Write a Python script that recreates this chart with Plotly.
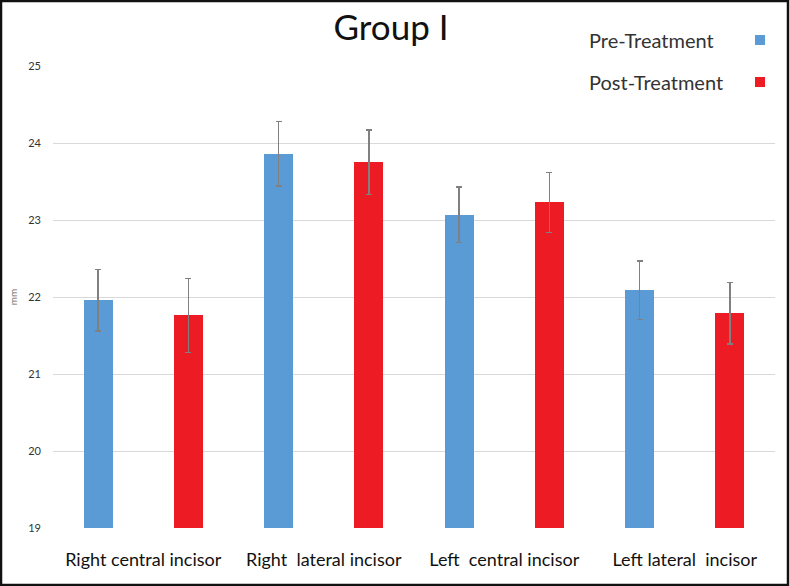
import plotly.graph_objects as go
import numpy as np

categories = ["Right central incisor", "Right  lateral incisor", "Left  central incisor", "Left lateral  incisor"]
series_names = ["Pre-Treatment", "Post-Treatment"]
pre_values = [21.96, 23.86, 23.07, 22.09]
pre_errors = [0.40, 0.42, 0.36, 0.38]
post_values = [21.76, 23.75, 23.23, 21.79]
post_errors = [0.48, 0.42, 0.39, 0.40]
y_ticks = [19, 20, 21, 22, 23, 24, 25]

colors = ["#5b9bd5", "#ed1c24"]
idx = np.arange(len(categories))
pre_x = idx * 2
post_x = idx * 2 + 1

W, H = 790, 586
ml, mr, mt, mb = 53, 15, 66, 58
pw, ph = W - ml - mr, H - mt - mb

fig = go.Figure()
for name, xs, vals, errs, col in [
    (series_names[0], pre_x, pre_values, pre_errors, colors[0]),
    (series_names[1], post_x, post_values, post_errors, colors[1]),
]:
    fig.add_trace(go.Bar(
        x=xs, y=[v - y_ticks[0] for v in vals], base=y_ticks[0], name=name,
        marker=dict(color=col, line=dict(width=0)), width=0.32,
        error_y=dict(type="data", array=errs, color="#808080", thickness=1.5, width=3),
        showlegend=False,
    ))

# legend drawn as text + squares (text left, marker right)
for i, (name, col) in enumerate(zip(series_names, colors)):
    yp = 40 + i * 42
    fig.add_annotation(x=(587 - ml) / pw, y=(H - mb - yp) / ph, xref="paper", yref="paper",
                       text=name, showarrow=False, xanchor="left", yanchor="middle",
                       font=dict(family="Lato", size=20, color="#333333"))
    fig.add_shape(type="rect", xref="paper", yref="paper",
                  x0=(755 - ml) / pw, x1=(765 - ml) / pw,
                  y0=(H - mb - yp - 5) / ph, y1=(H - mb - yp + 5) / ph,
                  fillcolor=col, line=dict(width=0))

# outer frame
fig.add_shape(type="rect", xref="paper", yref="paper",
              x0=(1 - ml) / pw, x1=(W - 2 - ml) / pw,
              y0=(H - mb - (H - 1)) / ph, y1=(H - mb - 1) / ph,
              line=dict(color="#111111", width=2.5), fillcolor="rgba(0,0,0,0)")

fig.update_layout(
    width=W, height=H,
    margin=dict(l=ml, r=mr, t=mt, b=mb, autoexpand=False),
    paper_bgcolor="white", plot_bgcolor="white",
    title=dict(text="Group I", x=0.495, xanchor="center", y=1 - 28 / H, yanchor="middle",
               font=dict(family="Lato", size=35, color="#111111")),
    bargap=0,
    xaxis=dict(range=[-0.5, 7.5], tickvals=list(idx * 2 + 0.5), ticktext=categories,
               showgrid=False, zeroline=False, showline=False, ticks="",
               ticklabelstandoff=19, automargin=False,
               tickfont=dict(family="Lato", size=18, color="#111111")),
    yaxis=dict(range=[y_ticks[0], y_ticks[-1]], tickvals=y_ticks, showgrid=True,
               gridcolor="#d9d9d9", gridwidth=1, zeroline=False, showline=False, ticks="",
               ticklabelstandoff=11, automargin=False,
               tickfont=dict(family="Lato", size=11, color="#333333"),
               title=dict(text="mm", standoff=8, font=dict(family="Lato", size=10, color="#666666"))),
    font=dict(family="Lato"),
)

fig.write_html("out.html", config={"displayModeBar": False},
               post_script="document.body.style.margin='0';")
